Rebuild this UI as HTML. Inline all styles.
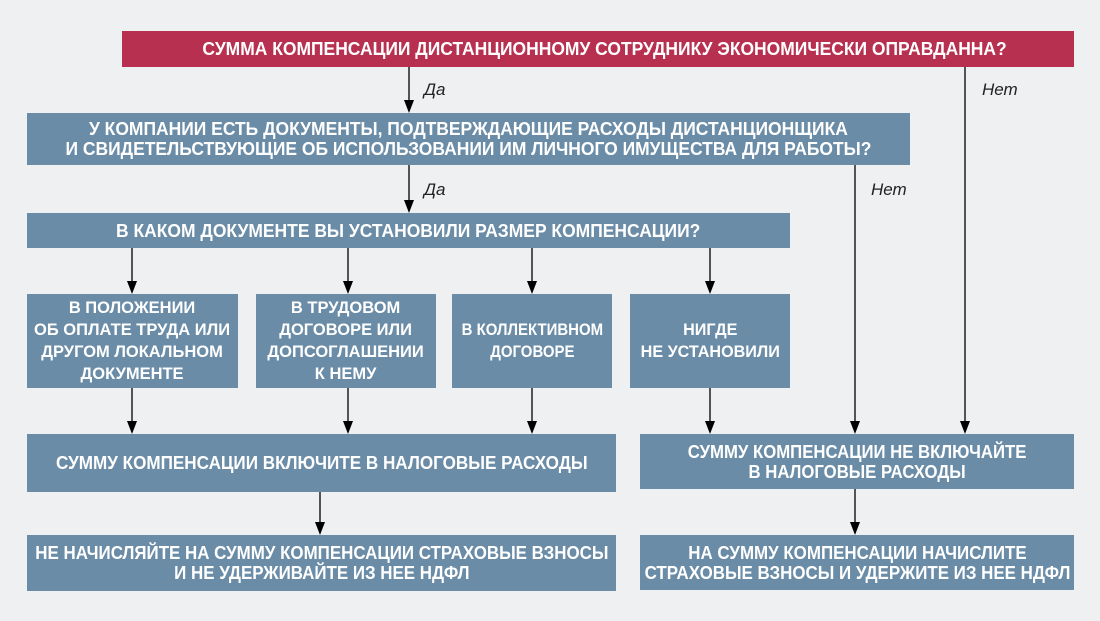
<!DOCTYPE html>
<html><head><meta charset="utf-8"><style>
html,body{margin:0;padding:0;}
body{width:1100px;height:621px;background:#eff0f2;position:relative;overflow:hidden;font-family:"Liberation Sans",sans-serif;}
.b{position:absolute;background:#6a8ca7;color:#fff;font-weight:bold;font-size:18px;line-height:20px;display:flex;align-items:center;justify-content:center;text-align:center;}
.b span{display:inline-block;white-space:nowrap;transform:scaleX(0.92);}
.s span{transform:scaleX(0.97);line-height:22px;}
.r{background:#b8304f;}
.l{position:absolute;font-style:italic;font-size:17px;color:#222;}
svg{position:absolute;left:0;top:0;}
</style></head><body>
<svg width="1100" height="621">
<g stroke="#000" stroke-width="1.3">
<line x1="409" y1="67" x2="409" y2="103"/>
<line x1="409" y1="165" x2="409" y2="203"/>
<line x1="132" y1="248" x2="132" y2="284"/>
<line x1="348" y1="248" x2="348" y2="284"/>
<line x1="532" y1="248" x2="532" y2="284"/>
<line x1="710" y1="248" x2="710" y2="284"/>
<line x1="132" y1="388" x2="132" y2="424"/>
<line x1="348" y1="388" x2="348" y2="424"/>
<line x1="532" y1="388" x2="532" y2="424"/>
<line x1="710" y1="388" x2="710" y2="424"/>
<line x1="855" y1="165" x2="855" y2="424"/>
<line x1="965" y1="67" x2="965" y2="424"/>
<line x1="320" y1="492" x2="320" y2="525"/>
<line x1="855" y1="489" x2="855" y2="525"/>
</g>
<g fill="#000">
<path d="M404,100 L414,100 L409,113 Z"/>
<path d="M404,200 L414,200 L409,213 Z"/>
<path d="M127,281 L137,281 L132,294 Z"/>
<path d="M343,281 L353,281 L348,294 Z"/>
<path d="M527,281 L537,281 L532,294 Z"/>
<path d="M705,281 L715,281 L710,294 Z"/>
<path d="M127,421 L137,421 L132,434 Z"/>
<path d="M343,421 L353,421 L348,434 Z"/>
<path d="M527,421 L537,421 L532,434 Z"/>
<path d="M705,421 L715,421 L710,434 Z"/>
<path d="M850,421 L860,421 L855,434 Z"/>
<path d="M960,421 L970,421 L965,434 Z"/>
<path d="M315,522 L325,522 L320,535 Z"/>
<path d="M850,522 L860,522 L855,535 Z"/>
</g></svg>
<div class="b r" style="left:136px;top:31px;width:938px;height:36px;"><span style="transform:scaleX(0.97)">СУММА КОМПЕНСАЦИИ ДИСТАНЦИОННОМУ СОТРУДНИКУ ЭКОНОМИЧЕСКИ ОПРАВДАННА?</span></div>
<div class="b r" style="left:122px;top:31px;width:14px;height:36px;"></div>
<div class="b" style="left:27px;top:113px;width:883px;height:52px;"><span style="transform:scaleX(0.97)">У КОМПАНИИ ЕСТЬ ДОКУМЕНТЫ, ПОДТВЕРЖДАЮЩИЕ РАСХОДЫ ДИСТАНЦИОНЩИКА<br>И СВИДЕТЕЛЬСТВУЮЩИЕ ОБ ИСПОЛЬЗОВАНИИ ИМ ЛИЧНОГО ИМУЩЕСТВА ДЛЯ РАБОТЫ?</span></div>
<div class="b" style="left:27px;top:213px;width:763px;height:35px;"><span style="transform:scaleX(0.97)">В КАКОМ ДОКУМЕНТЕ ВЫ УСТАНОВИЛИ РАЗМЕР КОМПЕНСАЦИИ?</span></div>
<div class="b s" style="left:27px;top:294px;width:211px;height:94px;font-size:17px;"><span>В ПОЛОЖЕНИИ<br>ОБ ОПЛАТЕ ТРУДА ИЛИ<br>ДРУГОМ ЛОКАЛЬНОМ<br>ДОКУМЕНТЕ</span></div>
<div class="b s" style="left:256px;top:294px;width:180px;height:94px;font-size:17px;"><span>В ТРУДОВОМ<br>ДОГОВОРЕ ИЛИ<br>ДОПСОГЛАШЕНИИ<br>К НЕМУ</span></div>
<div class="b s" style="left:452px;top:294px;width:160px;height:94px;font-size:17px;"><span style="transform:scaleX(0.88)">В КОЛЛЕКТИВНОМ<br>ДОГОВОРЕ</span></div>
<div class="b s" style="left:630px;top:294px;width:160px;height:94px;font-size:17px;"><span style="transform:scaleX(0.95)">НИГДЕ<br>НЕ УСТАНОВИЛИ</span></div>
<div class="b" style="left:27px;top:434px;width:589px;height:58px;"><span style="transform:scaleX(0.95)">СУММУ КОМПЕНСАЦИИ ВКЛЮЧИТЕ В НАЛОГОВЫЕ РАСХОДЫ</span></div>
<div class="b" style="left:640px;top:434px;width:434px;height:55px;"><span style="transform:scaleX(0.93)">СУММУ КОМПЕНСАЦИИ НЕ ВКЛЮЧАЙТЕ<br>В НАЛОГОВЫЕ РАСХОДЫ</span></div>
<div class="b" style="left:27px;top:535px;width:589px;height:56px;"><span style="transform:scaleX(0.94)">НЕ НАЧИСЛЯЙТЕ НА СУММУ КОМПЕНСАЦИИ СТРАХОВЫЕ ВЗНОСЫ<br>И НЕ УДЕРЖИВАЙТЕ ИЗ НЕЕ НДФЛ</span></div>
<div class="b" style="left:640px;top:535px;width:434px;height:55px;"><span style="transform:scaleX(0.94)">НА СУММУ КОМПЕНСАЦИИ НАЧИСЛИТЕ<br>СТРАХОВЫЕ ВЗНОСЫ И УДЕРЖИТЕ ИЗ НЕЕ НДФЛ</span></div>
<div class="l" style="left:424px;top:80px;">Да</div>
<div class="l" style="left:424px;top:180px;">Да</div>
<div class="l" style="left:982px;top:80px;">Нет</div>
<div class="l" style="left:871px;top:180px;">Нет</div>
</body></html>
